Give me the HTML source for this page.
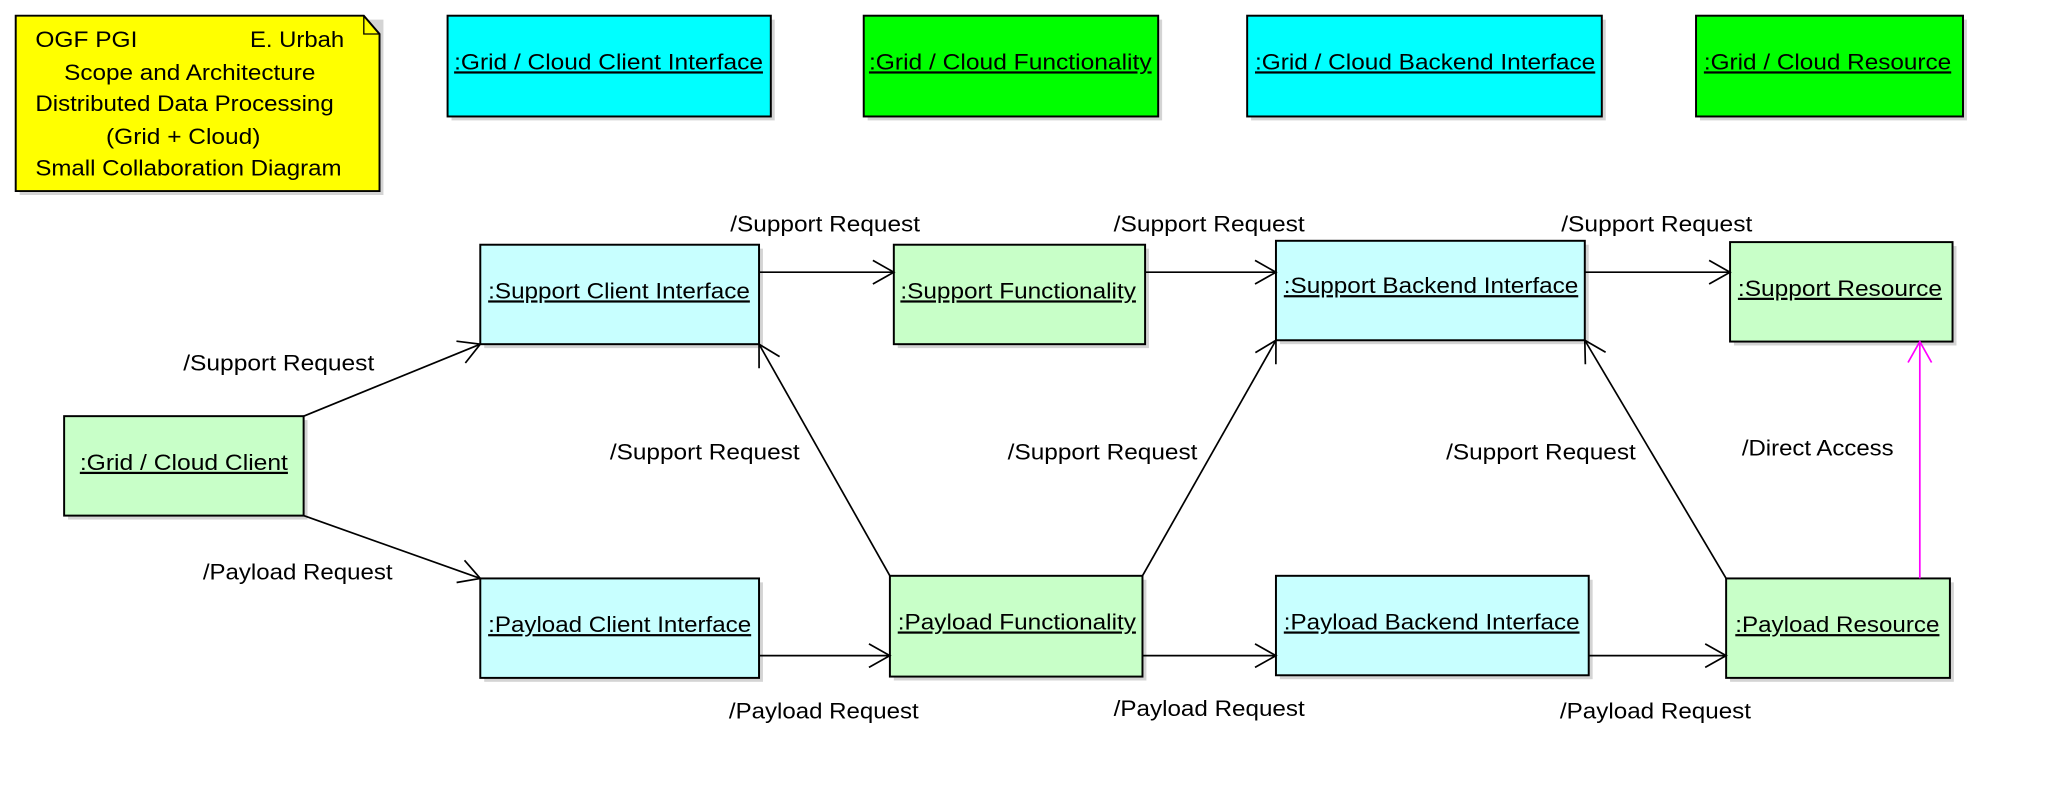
<!DOCTYPE html>
<html><head><meta charset="utf-8"><style>
html,body{margin:0;padding:0;background:#fff;width:2052px;height:790px;overflow:hidden}
svg{display:block}
text{font-family:"Liberation Sans",Arial,sans-serif;font-size:17px;fill:#000}
</style></head><body>
<svg width="2052" height="790" viewBox="0 0 1568 603.67" xmlns="http://www.w3.org/2000/svg">
<defs>
<marker id="a" viewBox="0 0 20 20" refX="18" refY="10" markerWidth="20" markerHeight="20" markerUnits="userSpaceOnUse" orient="auto">
<path d="M2,1 L18,10 L2,19" fill="none" stroke="#000" stroke-width="1.3"/></marker>
<marker id="m" viewBox="0 0 20 20" refX="18" refY="10" markerWidth="20" markerHeight="20" markerUnits="userSpaceOnUse" orient="auto">
<path d="M2,1 L18,10 L2,19" fill="none" stroke="#f0f" stroke-width="1.3"/></marker>
</defs>
<g fill="#d4d4d4">
<rect x="15" y="15" width="278" height="134"/>
<rect x="345" y="15" width="247" height="77"/>
<rect x="663" y="15" width="225" height="77"/>
<rect x="956" y="15" width="271" height="77"/>
<rect x="1299" y="15" width="204" height="77"/>
<rect x="370" y="190" width="213" height="76"/>
<rect x="686" y="190" width="192" height="76"/>
<rect x="978" y="187" width="236" height="76"/>
<rect x="1325" y="188" width="170" height="76"/>
<rect x="52" y="321" width="183" height="76"/>
<rect x="370" y="445" width="213" height="76"/>
<rect x="683" y="443" width="193" height="77"/>
<rect x="978" y="443" width="239" height="76"/>
<rect x="1322" y="445" width="171" height="76"/>
</g>
<g stroke="#000" stroke-width="1.5">
<path d="M12,12 H278 L290,26 V146 H12 Z" fill="#ff0"/>
<path d="M278,12 V26 H290" fill="none" stroke-width="1"/>
<rect x="342" y="12" width="247" height="77" fill="#0ff"/>
<rect x="660" y="12" width="225" height="77" fill="#0f0"/>
<rect x="953" y="12" width="271" height="77" fill="#0ff"/>
<rect x="1296" y="12" width="204" height="77" fill="#0f0"/>
<rect x="367" y="187" width="213" height="76" fill="#c8ffff"/>
<rect x="683" y="187" width="192" height="76" fill="#c8ffc8"/>
<rect x="975" y="184" width="236" height="76" fill="#c8ffff"/>
<rect x="1322" y="185" width="170" height="76" fill="#c8ffc8"/>
<rect x="49" y="318" width="183" height="76" fill="#c8ffc8"/>
<rect x="367" y="442" width="213" height="76" fill="#c8ffff"/>
<rect x="680" y="440" width="193" height="77" fill="#c8ffc8"/>
<rect x="975" y="440" width="239" height="76" fill="#c8ffff"/>
<rect x="1319" y="442" width="171" height="76" fill="#c8ffc8"/>
</g>
<g stroke="#000" stroke-width="1.3" fill="none" marker-end="url(#a)">
<line x1="232" y1="318" x2="367" y2="263"/>
<line x1="232" y1="394" x2="367" y2="442"/>
<line x1="580" y1="208" x2="683" y2="208"/>
<line x1="875" y1="208" x2="975" y2="208"/>
<line x1="1211" y1="208" x2="1322" y2="208"/>
<line x1="580" y1="501" x2="680" y2="501"/>
<line x1="873" y1="501" x2="975" y2="501"/>
<line x1="1214" y1="501" x2="1319" y2="501"/>
<line x1="680" y1="440" x2="580" y2="263"/>
<line x1="873" y1="440" x2="975" y2="260"/>
<line x1="1319" y1="442" x2="1211" y2="260"/>
</g>
<line x1="1467" y1="442" x2="1467" y2="261" stroke="#f0f" stroke-width="1.3" marker-end="url(#m)"/>
<g lengthAdjust="spacingAndGlyphs">
<text lengthAdjust="spacingAndGlyphs" x="27" y="36" textLength="78">OGF PGI</text>
<text lengthAdjust="spacingAndGlyphs" x="191" y="36" textLength="72">E. Urbah</text>
<text lengthAdjust="spacingAndGlyphs" x="49" y="61" textLength="192">Scope and Architecture</text>
<text lengthAdjust="spacingAndGlyphs" x="27" y="85" textLength="228">Distributed Data Processing</text>
<text lengthAdjust="spacingAndGlyphs" x="81" y="110" textLength="118">(Grid + Cloud)</text>
<text lengthAdjust="spacingAndGlyphs" x="27" y="134" textLength="234">Small Collaboration Diagram</text>
</g>
<g text-decoration="underline">
<text lengthAdjust="spacingAndGlyphs" x="347" y="53" textLength="236">:Grid / Cloud Client Interface</text>
<text lengthAdjust="spacingAndGlyphs" x="664" y="53" textLength="216">:Grid / Cloud Functionality</text>
<text lengthAdjust="spacingAndGlyphs" x="959" y="53" textLength="260">:Grid / Cloud Backend Interface</text>
<text lengthAdjust="spacingAndGlyphs" x="1302" y="53" textLength="189">:Grid / Cloud Resource</text>
<text lengthAdjust="spacingAndGlyphs" x="373" y="228" textLength="200">:Support Client Interface</text>
<text lengthAdjust="spacingAndGlyphs" x="688" y="228" textLength="180">:Support Functionality</text>
<text lengthAdjust="spacingAndGlyphs" x="981" y="224" textLength="225">:Support Backend Interface</text>
<text lengthAdjust="spacingAndGlyphs" x="1328" y="226" textLength="156">:Support Resource</text>
<text lengthAdjust="spacingAndGlyphs" x="61" y="359" textLength="159">:Grid / Cloud Client</text>
<text lengthAdjust="spacingAndGlyphs" x="373" y="483" textLength="201">:Payload Client Interface</text>
<text lengthAdjust="spacingAndGlyphs" x="686" y="481" textLength="182">:Payload Functionality</text>
<text lengthAdjust="spacingAndGlyphs" x="981" y="481" textLength="226">:Payload Backend Interface</text>
<text lengthAdjust="spacingAndGlyphs" x="1326" y="483" textLength="156">:Payload Resource</text>
</g>
<g>
<text lengthAdjust="spacingAndGlyphs" x="558" y="177" textLength="145">/Support Request</text>
<text lengthAdjust="spacingAndGlyphs" x="851" y="177" textLength="146">/Support Request</text>
<text lengthAdjust="spacingAndGlyphs" x="1193" y="177" textLength="146">/Support Request</text>
<text lengthAdjust="spacingAndGlyphs" x="140" y="283" textLength="146">/Support Request</text>
<text lengthAdjust="spacingAndGlyphs" x="466" y="351" textLength="145">/Support Request</text>
<text lengthAdjust="spacingAndGlyphs" x="770" y="351" textLength="145">/Support Request</text>
<text lengthAdjust="spacingAndGlyphs" x="1105" y="351" textLength="145">/Support Request</text>
<text lengthAdjust="spacingAndGlyphs" x="1331" y="348" textLength="116">/Direct Access</text>
<text lengthAdjust="spacingAndGlyphs" x="155" y="443" textLength="145">/Payload Request</text>
<text lengthAdjust="spacingAndGlyphs" x="557" y="549" textLength="145">/Payload Request</text>
<text lengthAdjust="spacingAndGlyphs" x="851" y="547" textLength="146">/Payload Request</text>
<text lengthAdjust="spacingAndGlyphs" x="1192" y="549" textLength="146">/Payload Request</text>
</g>
</svg>
</body></html>
